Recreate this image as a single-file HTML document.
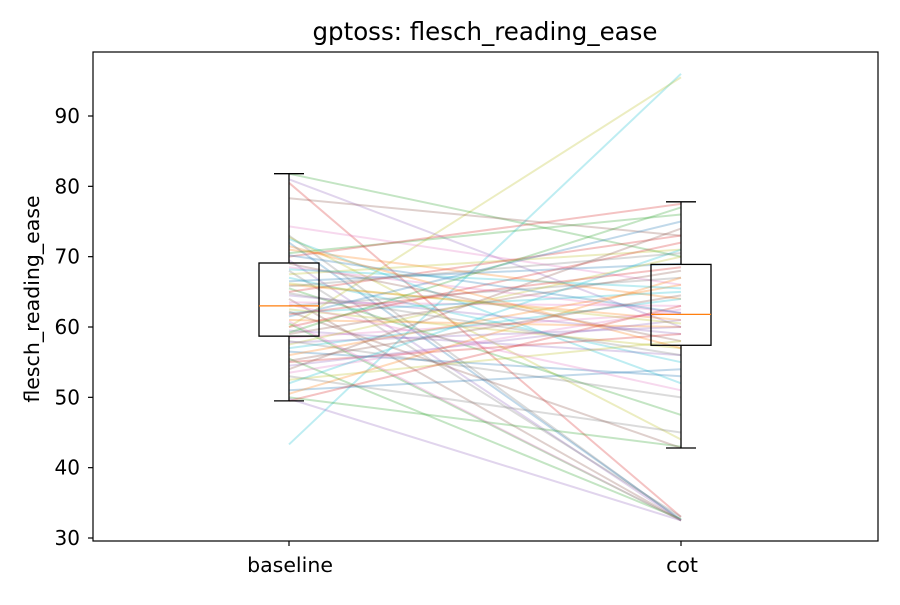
<!DOCTYPE html>
<html><head><meta charset="utf-8"><style>
body{margin:0;background:#fff;}
svg text{font-family:"DejaVu Sans","Liberation Sans",sans-serif;fill:#000;}
</style></head><body>
<svg id="chart" width="900" height="600" xmlns="http://www.w3.org/2000/svg">
<rect width="900" height="600" fill="#fff"/>
<text x="485" y="40" font-size="24.5" text-anchor="middle">gptoss: flesch_reading_ease</text>
<g id="lines"></g>
<g id="boxes"></g>
<g id="axes"></g>
<text transform="translate(39,299) rotate(-90)" font-size="20.5" text-anchor="middle">flesch_reading_ease</text>
</svg>
<script>
const categories = ["baseline", "cot"];
const baselineValues = [43.3,60,81.8,80.5,81,78.3,74.3,73,72.8,72.5,72,71,70.5,70,69.5,69,68.5,68,67.5,67,66.5,66,65.5,65,64.5,64,63.5,63,62.5,62,61.5,61,60.5,60,59.5,59,58.5,58,57.5,57,56.5,56,55.5,55,54.5,54,53.5,53,52.5,52,51,50.5,50,49.5,49.8,62.2,63.2,64.8,66.2,68.2,70.2,71.5,59.2,61.8,57.8,55.2,60.8,65.8];
const cotValues = [96,95.5,70,33,60,73,66,32.5,44,52,32.6,64,76,77.5,32.5,58,62,33,71,55,69,61,47.5,73,59,32.5,63,67,57,65,75,60,32.5,72,56,68,62,50,70,64,53,66,32.7,59,61,74,62.5,45,58,71,54,67,43,63,32.5,42.8,51,56,60.5,65.5,62,57,77,68.5,60,64.5,32.5,70.5];
const boxStats = [
  {lo:49.5, q1:58.7, med:63.0, q3:69.1, hi:81.8},
  {lo:42.8, q1:57.4, med:61.8, q3:68.9, hi:77.8}
];
const yTicks = [30,40,50,60,70,80,90];
const colors = ["#1f77b4","#ff7f0e","#2ca02c","#d62728","#9467bd","#8c564b","#e377c2","#7f7f7f","#bcbd22","#17becf"];
const NS="http://www.w3.org/2000/svg";
const L=93,R=878,T=52,B=541;
function yScale(v){return 538-(v-30)*70.333/10;}
function xScale(i){return [289,681][i];}
function mk(tag,attrs,parent){const e=document.createElementNS(NS,tag);for(const k in attrs)e.setAttribute(k,attrs[k]);parent.appendChild(e);return e;}
function colorFor(i){ if(i===0) return colors[9]; if(i===1) return colors[8]; return colors[i%10]; }
const lg=document.getElementById('lines');
baselineValues.forEach((b,i)=>{
  const l=mk('line',{x1:xScale(0),y1:yScale(b),x2:xScale(1),y2:yScale(cotValues[i]),stroke:colorFor(i),'stroke-opacity':0.28,'stroke-width':2},lg);
  
  
});
const bg=document.getElementById('boxes');
boxStats.forEach((s,i)=>{
  const x=xScale(i),w=30;
  const g=mk('g',{},bg);
  
  
  mk('line',{x1:x,x2:x,y1:yScale(s.q3),y2:yScale(s.hi),stroke:'#000','stroke-width':1.3},g);
  mk('line',{x1:x,x2:x,y1:yScale(s.q1),y2:yScale(s.lo),stroke:'#000','stroke-width':1.3},g);
  mk('line',{x1:x-15,x2:x+15,y1:yScale(s.hi),y2:yScale(s.hi),stroke:'#000','stroke-width':1.3},g);
  mk('line',{x1:x-15,x2:x+15,y1:yScale(s.lo),y2:yScale(s.lo),stroke:'#000','stroke-width':1.3},g);
  mk('rect',{x:x-w,y:yScale(s.q3),width:2*w,height:yScale(s.q1)-yScale(s.q3),fill:'none',stroke:'#000','stroke-width':1.3},g);
  mk('line',{x1:x-w,x2:x+w,y1:yScale(s.med),y2:yScale(s.med),stroke:'#ff7f0e','stroke-width':1.3},g);
});
const ag=document.getElementById('axes');
mk('rect',{x:L,y:T,width:R-L,height:B-T,fill:'none',stroke:'#000','stroke-width':1.2},ag);
yTicks.forEach(v=>{
  const y=yScale(v);
  mk('line',{x1:L-5,x2:L,y1:y,y2:y,stroke:'#000','stroke-width':1.2},ag);
  const t=mk('text',{x:L-13,y:y+7,'font-size':20,'text-anchor':'end'},ag);
  t.textContent=v;
  
  
});
categories.forEach((c,i)=>{
  const x=xScale(i);
  mk('line',{x1:x,x2:x,y1:B,y2:B+5,stroke:'#000','stroke-width':1.2},ag);
  const t=mk('text',{x:x+1,y:B+31,'font-size':20.5,'text-anchor':'middle'},ag);
  t.textContent=c;
  
  
});
</script>
</body></html>
